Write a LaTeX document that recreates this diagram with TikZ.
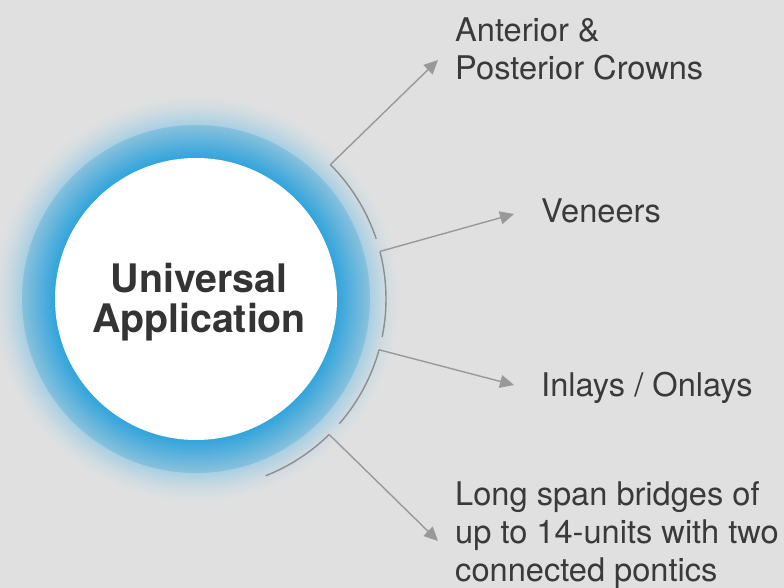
\documentclass[tikz,border=0pt]{standalone}
\usepackage{fontspec}
\setmainfont{TeX Gyre Heros}
\usetikzlibrary{arrows.meta}
\definecolor{bgC}{HTML}{E0E0E0}
\definecolor{glowC}{HTML}{A9D0E3}
\definecolor{ringOut}{HTML}{88C1DC}
\definecolor{ringIn}{HTML}{33A5DC}
\definecolor{lineC}{HTML}{999999}
\definecolor{arcC}{HTML}{8E8E8E}
\definecolor{txtC}{HTML}{3A3A3A}
\begin{document}
\begin{tikzpicture}[x=1pt,y=1pt,
  conn/.style={draw=lineC, line width=1.4pt, -{Triangle[length=14pt,width=13pt]}},
  arcseg/.style={draw=arcC, line width=1.4pt},
  lbl/.style={anchor=base west, inner sep=0pt, text=txtC, font=\fontsize{32.6}{38}\selectfont, align=left},
  hubtext/.style={anchor=base, inner sep=0pt, text=txtC!90!black, font=\bfseries\fontsize{39.3}{40}\selectfont, align=center}]
\fill[bgC] (0,0) rectangle (784,588);
\useasboundingbox (0,0) rectangle (784,588);
\coordinate (C) at (196,289);
% glow
\foreach \r in {206,205,...,175} {
  \pgfmathsetmacro\p{100*((206-\r)/31)^1.6}
  \fill[glowC!\p!bgC] (C) circle (\r);
}
% ring
\foreach \r in {174,173,...,142} {
  \pgfmathsetmacro\p{100*(174-\r)/32}
  \fill[ringIn!\p!ringOut] (C) circle (\r);
}
\node[circle, fill=white, minimum size=282pt, inner sep=0pt] (hub) at (C) {};
\node[hubtext] (title) at (199,255) {Universal\\Application};
% arc segments and connector starts
\coordinate (s1) at ([shift={(45:190)}]C);
\coordinate (s2) at ([shift={(14.5:190)}]C);
\coordinate (s3) at ([shift={(-15.5:190)}]C);
\coordinate (s4) at ([shift={(-45.5:190)}]C);
\draw[arcseg] (s1) arc[start angle=45, end angle=18.5, radius=190];
\draw[arcseg] (s2) arc[start angle=14.5, end angle=-11.5, radius=190];
\draw[arcseg] (s3) arc[start angle=-15.5, end angle=-41, radius=190];
\draw[arcseg] (s4) arc[start angle=-45.5, end angle=-68.5, radius=190];
% arrow tips
\coordinate (t1) at (438,528);
\coordinate (t2) at (514,374);
\coordinate (t3) at (514,203);
\coordinate (t4) at (438,47);
\draw[conn] (s1) -- (t1);
\draw[conn] (s2) -- (t2);
\draw[conn] (s3) -- (t3);
\draw[conn] (s4) -- (t4);
% labels (base anchor = last line)
\node[lbl] (l1) at (455,508) {Anterior \&\\Posterior Crowns};
\node[lbl] (l2) at (541,365) {Veneers};
\node[lbl] (l3) at (541,191) {Inlays / Onlays};
\node[lbl] (l4) at (455,6) {Long span bridges of\\up to 14-units with two\\connected pontics};
\end{tikzpicture}
\end{document}
